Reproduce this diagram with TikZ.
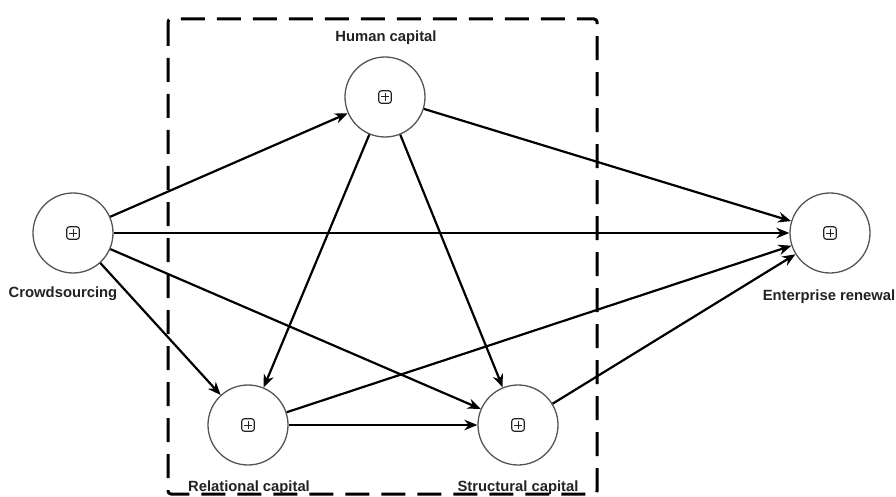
\documentclass[tikz,border=0pt]{standalone}
\usepackage{fontspec}
\setmainfont{Liberation Sans}
\usetikzlibrary{arrows.meta}
\definecolor{circ}{HTML}{555555}
\definecolor{txt}{HTML}{222222}
\tikzset{
  lv/.style={circle, draw=circ, line width=1.3pt, minimum size=80pt, inner sep=0pt, fill=white},
  sym/.style={rectangle, draw=txt, line width=1.1pt, rounded corners=2.5pt, minimum size=12.5pt, inner sep=0pt,
    path picture={\draw[txt, line width=1pt] (path picture bounding box.north) ++(0,-2.5pt) -- ++(0,-7.5pt);
                  \draw[txt, line width=1pt] (path picture bounding box.west) ++(2.5pt,0) -- ++(7.5pt,0);}},
  lab/.style={font=\fontsize{14.8}{16}\selectfont\bfseries, text=txt, inner sep=0pt},
  arr/.style={-{Stealth[length=13pt,width=10.5pt]}, line width=2.2pt, black},
  frame/.style={draw=black, line width=3pt, dash pattern=on 24pt off 12pt, rounded corners=3pt}
}
\begin{document}
\begin{tikzpicture}[x=1pt,y=-1pt]
\useasboundingbox (0,0) rectangle (896,497);
\draw[frame] (168,19) rectangle (597,494);
\node[lv] (cs) at (73,233) {};
\node[lv] (hc) at (385,97) {};
\node[lv] (er) at (830,233) {};
\node[lv] (rc) at (248,425) {};
\node[lv] (sc) at (518,425) {};
\foreach \n in {cs,hc,er,rc,sc} {\node[sym] (\n-s) at (\n) {};}
\node[lab] (cs-l) at (63,294) {Crowdsourcing};
\node[lab] (hc-l) at (386,38) {Human capital};
\node[lab] (er-l) at (829,297) {Enterprise renewal};
\node[lab] (rc-l) at (249,488) {Relational capital};
\node[lab] (sc-l) at (518,488) {Structural capital};
\draw[arr] (cs) -- (hc);
\draw[arr] (cs) -- (er);
\draw[arr] (cs) -- (sc);
\draw[arr] (cs) -- (rc);
\draw[arr] (hc) -- (er);
\draw[arr] (hc) -- (rc);
\draw[arr] (hc) -- (sc);
\draw[arr] (rc) -- (sc);
\draw[arr] (rc) -- (er);
\draw[arr] (sc) -- (er);
\end{tikzpicture}
\end{document}
